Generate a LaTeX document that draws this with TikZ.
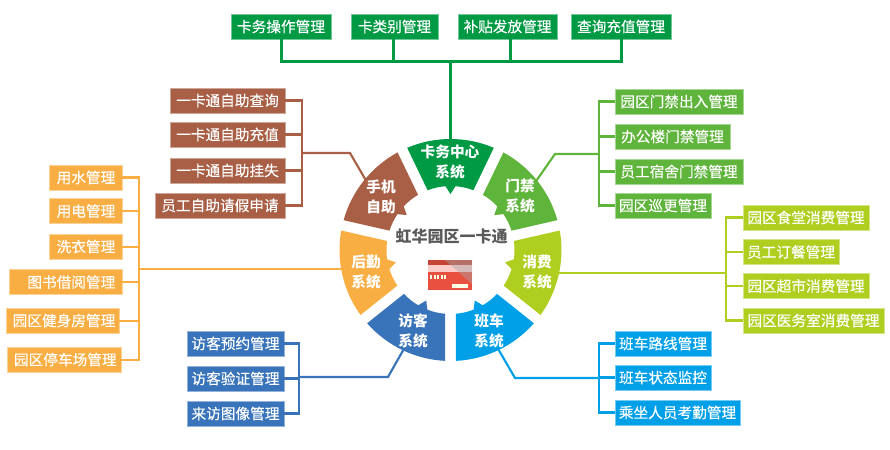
\documentclass[tikz,border=0pt]{standalone}
\usepackage{fontspec}
\setmainfont{Noto Sans CJK SC}
\newfontfamily\tagfont[FakeBold=0.25]{Noto Sans CJK SC}
\usepackage{tikz}
\usetikzlibrary{positioning}
\definecolor{cardgreen}{HTML}{009944}
\definecolor{doorgreen}{HTML}{5FB43B}
\definecolor{shoplime}{HTML}{AECE20}
\definecolor{buscyan}{HTML}{00A0E9}
\definecolor{guestblue}{HTML}{3973B9}
\definecolor{careorange}{HTML}{F8AE43}
\definecolor{phonebrown}{HTML}{A85F45}
\definecolor{cardred}{HTML}{E8503F}

\begin{document}
\begin{tikzpicture}[
  x=0.75pt, y=-0.75pt,
  tag/.style={text=white, font=\tagfont\fontsize{11pt}{13pt}\selectfont, minimum height=18.75pt, inner ysep=0pt, inner xsep=0pt, outer sep=0pt, align=center},
  seat/.style={tag, fill=#1, draw=#1!55!white, line width=0.3pt},
  backtag/.style={seat=careorange, inner xsep=5pt, align=right},
  hubtext/.style={text=white, font=\fontsize{11pt}{14.5pt}\selectfont\bfseries, align=center, inner sep=0pt},
  rail/.style={draw=#1, line width=1.6pt},
  sector/.pic={
    \fill[pic actions] (67.03:83.25pt) arc[start angle=67.03, end angle=112.97, radius=83.25pt]
      -- (110.96:48pt) arc[start angle=110.96, end angle=94.5, radius=48pt]
      -- (90:42pt) -- (85.5:48pt) arc[start angle=85.5, end angle=69.04, radius=48pt] -- cycle;
  }
]
\useasboundingbox (0,0) rectangle (890,450);

% top row
\node[seat=cardgreen, anchor=north west, minimum width=75pt] (t1) at (231,14) {卡务操作管理};
\node[seat=cardgreen, right=15pt of t1, minimum width=65.25pt] (t2) {卡类别管理};
\node[seat=cardgreen, right=15pt of t2, minimum width=74.25pt] (t3) {补贴发放管理};
\node[seat=cardgreen, right=10.5pt of t3, minimum width=75pt] (t4) {查询充值管理};

% phone self service
\node[seat=phonebrown, anchor=north east, minimum width=86.25pt] (p1) at (285,88) {一卡通自助查询};
\node[seat=phonebrown, below=6.75pt of p1.south east, anchor=north east, minimum width=86.25pt] (p2) {一卡通自助充值};
\node[seat=phonebrown, below=8.25pt of p2.south east, anchor=north east, minimum width=86.25pt] (p3) {一卡通自助挂失};
\node[seat=phonebrown, below=7.5pt of p3.south east, anchor=north east, minimum width=97.5pt] (p4) {员工自助请假申请};

% logistics
\node[backtag, anchor=north east, text width=44.75pt] (h1) at (122,165) {用水管理};
\node[backtag, below=6.4pt of h1.south east, anchor=north east, text width=44.75pt] (h2) {用电管理};
\node[backtag, below=7.9pt of h2.south east, anchor=north east, text width=44.75pt] (h3) {洗衣管理};
\node[backtag, below=7.9pt of h3.south east, anchor=north east, text width=74.75pt] (h4) {图书借阅管理};
\node[backtag, below=10.1pt of h4.south east, anchor=north east, xshift=-2.25pt, text width=74.75pt] (h5) {园区健身房管理};
\node[backtag, below=10.5pt of h5.south east, anchor=north east, xshift=1.5pt, text width=75.25pt] (h6) {园区停车场管理};

% visitors
\node[seat=guestblue, anchor=north east, minimum width=72.75pt] (v1) at (284,331) {访客预约管理};
\node[seat=guestblue, below=7.5pt of v1.south east, anchor=north east, minimum width=72.75pt] (v2) {访客验证管理};
\node[seat=guestblue, below=7.5pt of v2.south east, anchor=north east, minimum width=72.75pt] (v3) {来访图像管理};

% doors
\node[seat=doorgreen, anchor=north west, minimum width=96pt] (d1) at (615,89) {园区门禁出入管理};
\node[seat=doorgreen, below=7.5pt of d1.south west, anchor=north west, minimum width=86.25pt] (d2) {办公楼门禁管理};
\node[seat=doorgreen, below=7.5pt of d2.south west, anchor=north west, minimum width=96pt] (d3) {员工宿舍门禁管理};
\node[seat=doorgreen, below=6.75pt of d3.south west, anchor=north west, minimum width=72pt] (d4) {园区巡更管理};

% spending
\node[seat=shoplime, anchor=north west, minimum width=94.5pt] (s1) at (743,205) {园区食堂消费管理};
\node[seat=shoplime, below=7.1pt of s1.south west, anchor=north west, minimum width=72pt] (s2) {员工订餐管理};
\node[seat=shoplime, below=6.75pt of s2.south west, anchor=north west, minimum width=94.5pt] (s3) {园区超市消费管理};
\node[seat=shoplime, below=7.1pt of s3.south west, anchor=north west, minimum width=105.75pt] (s4) {园区医务室消费管理};

% shuttle
\node[seat=buscyan, anchor=north west, minimum width=72pt] (b1) at (615,331) {班车路线管理};
\node[seat=buscyan, below=6.75pt of b1.south west, anchor=north west, minimum width=72pt] (b2) {班车状态监控};
\node[seat=buscyan, below=7.5pt of b2.south west, anchor=north west, minimum width=93.75pt] (b3) {乘坐人员考勤管理};

% connector joints
\coordinate (cardbus) at (450,61);
\coordinate (cardend) at (450,145);
\coordinate (phonebus) at (302,153);
\coordinate (phoneknee) at (350,153);
\coordinate (phoneend) at (368,184);
\coordinate (carebus) at (139,269);
\coordinate (careend) at (350,269);
\coordinate (guestbus) at (299,377);
\coordinate (guestknee) at (388,377);
\coordinate (guestend) at (405,347);
\coordinate (doorbus) at (599,154);
\coordinate (doorknee) at (555,154);
\coordinate (doorend) at (534,184);
\coordinate (shopbus) at (726,273);
\coordinate (shopend) at (550,273);
\coordinate (shuttlebus) at (599,378);
\coordinate (shuttleknee) at (515,378);
\coordinate (shuttleend) at (497,347);

\draw[rail=cardgreen, line width=2.25pt] (t1.south) |- (cardbus);
\draw[rail=cardgreen, line width=2.25pt] ([xshift=-1.1pt]t2.south) |- (cardbus);
\draw[rail=cardgreen, line width=2.25pt] ([xshift=1.9pt]t3.south) |- (cardbus);
\draw[rail=cardgreen, line width=2.25pt] (t4.south) |- (cardbus);
\draw[rail=cardgreen, line width=2.25pt] (cardbus) -- (cardend);

\draw[rail=phonebrown] (p1.east) -| (phonebus);
\draw[rail=phonebrown] (p2.east) -| (phonebus);
\draw[rail=phonebrown] (p3.east) -| (phonebus);
\draw[rail=phonebrown] (p4.east) -| (phonebus);
\draw[rail=phonebrown] (phonebus) -- (phoneknee) -- (phoneend);

\draw[rail=careorange] (h1.east) -| (carebus);
\draw[rail=careorange] (h2.east) -| (carebus);
\draw[rail=careorange] (h3.east) -| (carebus);
\draw[rail=careorange] (h4.east) -| (carebus);
\draw[rail=careorange] (h5.east) -| (carebus);
\draw[rail=careorange] (h6.east) -| (carebus);
\draw[rail=careorange] (carebus) -- (careend);

\draw[rail=guestblue] (v1.east) -| (guestbus);
\draw[rail=guestblue] (v2.east) -| (guestbus);
\draw[rail=guestblue] (v3.east) -| (guestbus);
\draw[rail=guestblue] (guestbus) -- (guestknee) -- (guestend);

\draw[rail=doorgreen] (d1.west) -| (doorbus);
\draw[rail=doorgreen] (d2.west) -| (doorbus);
\draw[rail=doorgreen] (d3.west) -| (doorbus);
\draw[rail=doorgreen] (d4.west) -| (doorbus);
\draw[rail=doorgreen] (doorbus) -- (doorknee) -- (doorend);

\draw[rail=shoplime] (s1.west) -| (shopbus);
\draw[rail=shoplime] (s2.west) -| (shopbus);
\draw[rail=shoplime] (s3.west) -| (shopbus);
\draw[rail=shoplime] (s4.west) -| (shopbus);
\draw[rail=shoplime] (shopbus) -- (shopend);

\draw[rail=buscyan] (b1.west) -| (shuttlebus);
\draw[rail=buscyan] (b2.west) -| (shuttlebus);
\draw[rail=buscyan] (b3.west) -| (shuttlebus);
\draw[rail=buscyan] (shuttlebus) -- (shuttleknee) -- (shuttleend);

% ring
\coordinate (hub) at (450.5,250);
\pic[fill=cardgreen] at (hub) {sector};
\pic[fill=doorgreen, rotate=-51.43] at (hub) {sector};
\pic[fill=shoplime, rotate=-102.86] at (hub) {sector};
\pic[fill=buscyan, rotate=-154.29] at (hub) {sector};
\pic[fill=guestblue, rotate=154.29] at (hub) {sector};
\pic[fill=careorange, rotate=102.86] at (hub) {sector};
\pic[fill=phonebrown, rotate=51.43] at (hub) {sector};

\node[hubtext] (centre) at (450,162) {卡务中心\\系统};
\node[hubtext] (door) at (520,196) {门禁\\系统};
\node[hubtext] (shop) at (537,272) {消费\\系统};
\node[hubtext] (shuttle) at (489,331) {班车\\系统};
\node[hubtext] (guest) at (413,331) {访客\\系统};
\node[hubtext] (care) at (366,272) {后勤\\系统};
\node[hubtext] (phone) at (381,197) {手机\\自助};

\node[text=black!65, font=\fontsize{12pt}{14pt}\selectfont\bfseries, inner sep=0pt] (title) at (451.5,236.5) {虹华园区一卡通};

% card icon
\fill[cardred] (428,260) rectangle (472,290);
\fill[cardred!85!black] (428,260) rectangle (472,265);
\fill[red!20!white] (428,265) rectangle (472,272);
\fill[black!35, opacity=0.45] (445,260) -- (472,260) -- (472,284) -- cycle;
\fill[yellow!10!white] (452,284) rectangle (468,288);
\fill[yellow!10!white] (430,275) rectangle (432,279);
\fill[yellow!10!white] (433.5,275) rectangle (435.5,279);
\fill[yellow!10!white] (437,275) rectangle (439,279);
\fill[yellow!10!white] (440.5,275) rectangle (442.5,279);
\fill[yellow!10!white] (444,275) rectangle (446,279);
\end{tikzpicture}
\end{document}
